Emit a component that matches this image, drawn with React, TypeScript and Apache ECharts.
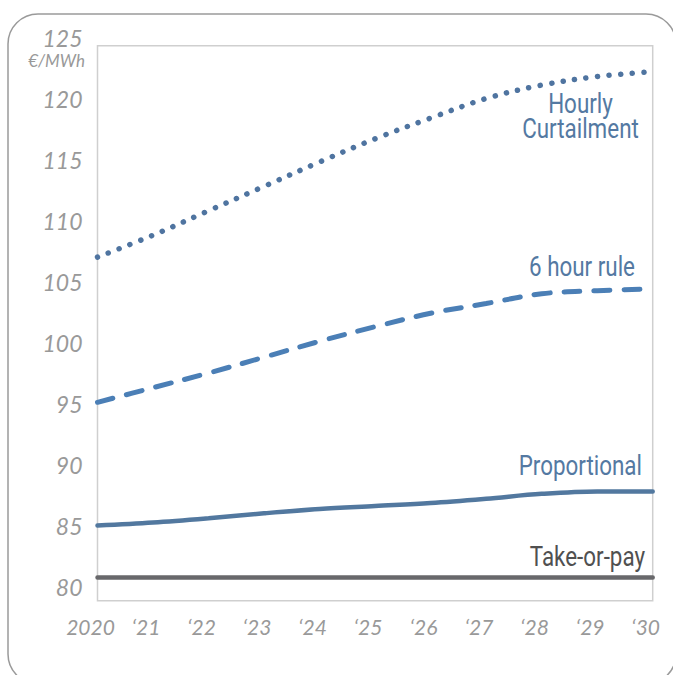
import React, { useEffect, useRef } from "react";
import * as echarts from "echarts";

const years = ["2020", "‘21", "‘22", "‘23", "‘24", "‘25", "‘26", "‘27", "‘28", "‘29", "‘30"];
const hourlyCurtailment = [107.0, 108.8, 110.8, 112.8, 114.8, 116.7, 118.4, 120.0, 121.1, 121.8, 122.2];
const sixHourRule = [95.1, 96.3, 97.5, 98.8, 100.1, 101.3, 102.4, 103.2, 104.0, 104.25, 104.4];
const proportional = [85.0, 85.25, 85.6, 86.0, 86.35, 86.6, 86.85, 87.2, 87.6, 87.8, 87.8];
const takeOrPay = [80.75, 80.75, 80.75, 80.75, 80.75, 80.75, 80.75, 80.75, 80.75, 80.75, 80.75];
const yTickMin = 80;
const yTickMax = 125;
const yTickStep = 5;
const unitLabel = "€/MWh";

const BLUE_DOT = "#4f74a0";
const BLUE_DASH = "#4b7fb6";
const BLUE_SOLID = "#52789f";
const BLUE_TEXT = "#5479a2";
const GRAY_LINE = "#68686b";
const GRAY_TEXT = "#505050";
const TICK_GRAY = "#999999";
const TICK_FONT = "Lato, 'Open Sans', sans-serif";
const LABEL_FONT = "Roboto, 'Noto Sans', sans-serif";

export default function App() {
  const ref = useRef<HTMLDivElement>(null);
  useEffect(() => {
    if (!ref.current) return;
    const chart = echarts.init(ref.current, null, { renderer: "svg" });
    const labelText = (text: string, x: number, y: number, color: string, align: string) => ({
      type: "text",
      x,
      y,
      scaleX: 0.8,
      silent: true,
      style: {
        text,
        fill: color,
        font: `400 28px ${LABEL_FONT}`,
        align,
        verticalAlign: "middle",
      },
    });
    chart.setOption({
      animation: false,
      backgroundColor: "#ffffff",
      grid: [
        {
          left: 97.5,
          top: 45.7,
          right: 20.3,
          bottom: 74.3,
          show: true,
          borderColor: "#cfcfcf",
          borderWidth: 1.5,
          backgroundColor: "transparent",
        },
        { left: 97.5, top: 37.5, right: 20.3, bottom: 88.5, show: false },
      ],
      xAxis: [
        {
          type: "category",
          gridIndex: 0,
          data: years,
          boundaryGap: false,
          axisLine: { show: false },
          axisTick: { show: false },
          splitLine: { show: false },
          axisLabel: {
            show: true,
            interval: 0,
            margin: 15,
            color: TICK_GRAY,
            fontFamily: TICK_FONT,
            fontStyle: "italic",
            fontWeight: 400,
            fontSize: 21,
            padding: [0, 14, 0, 0],
          },
        },
        {
          type: "category",
          gridIndex: 1,
          data: years,
          boundaryGap: false,
          show: false,
        },
      ],
      yAxis: [
        {
          type: "value",
          gridIndex: 0,
          min: 78.84,
          max: 124.33,
          axisLine: { show: false },
          axisTick: { show: false },
          splitLine: { show: false },
          axisLabel: { show: false },
        },
        {
          type: "value",
          gridIndex: 1,
          min: yTickMin,
          max: yTickMax,
          interval: yTickStep,
          axisLine: { show: false },
          axisTick: { show: false },
          splitLine: { show: false },
          axisLabel: {
            show: true,
            margin: 15,
            color: TICK_GRAY,
            fontFamily: TICK_FONT,
            fontStyle: "italic",
            fontWeight: 400,
            fontSize: 23,
          },
        },
      ],
      series: [
        {
          name: "Take-or-pay",
          type: "line",
          xAxisIndex: 0,
          yAxisIndex: 0,
          data: takeOrPay,
          showSymbol: false,
          lineStyle: { color: GRAY_LINE, width: 4.5, cap: "round" },
          z: 3,
        },
        {
          name: "Proportional",
          type: "line",
          xAxisIndex: 0,
          yAxisIndex: 0,
          data: proportional,
          smooth: 0.35,
          showSymbol: false,
          lineStyle: { color: BLUE_SOLID, width: 4.5, cap: "round" },
          z: 3,
        },
        {
          name: "6 hour rule",
          type: "line",
          xAxisIndex: 0,
          yAxisIndex: 0,
          data: sixHourRule,
          smooth: 0.35,
          showSymbol: false,
          lineStyle: { color: BLUE_DASH, width: 5, type: [16, 14], cap: "round" },
          z: 3,
        },
        {
          name: "Hourly Curtailment",
          type: "line",
          xAxisIndex: 0,
          yAxisIndex: 0,
          data: hourlyCurtailment,
          smooth: 0.35,
          showSymbol: false,
          lineStyle: { color: BLUE_DOT, width: 5.5, type: [0.1, 11.5], cap: "round" },
          z: 3,
        },
      ],
      graphic: [
        {
          type: "rect",
          silent: true,
          z: -10,
          shape: { x: 8, y: 14, width: 668, height: 670, r: 30 },
          style: { fill: "none", stroke: "#9a9a9a", lineWidth: 1.5 },
        },
        {
          type: "text",
          x: 85,
          y: 60,
          silent: true,
          style: {
            text: unitLabel,
            fill: TICK_GRAY,
            font: `italic 400 17px ${TICK_FONT}`,
            align: "right",
            verticalAlign: "middle",
          },
        },
        labelText("Hourly", 580.5, 103, BLUE_TEXT, "center"),
        labelText("Curtailment", 580.5, 128, BLUE_TEXT, "center"),
        labelText("6 hour rule", 635, 266, BLUE_TEXT, "right"),
        labelText("Proportional", 642, 465.5, BLUE_TEXT, "right"),
        labelText("Take-or-pay", 645, 556, GRAY_TEXT, "right"),
      ],
    });
    return () => chart.dispose();
  }, []);
  return (
    <div
      ref={ref}
      style={{ position: "fixed", left: 0, top: 0, width: 673, height: 675 }}
    />
  );
}
